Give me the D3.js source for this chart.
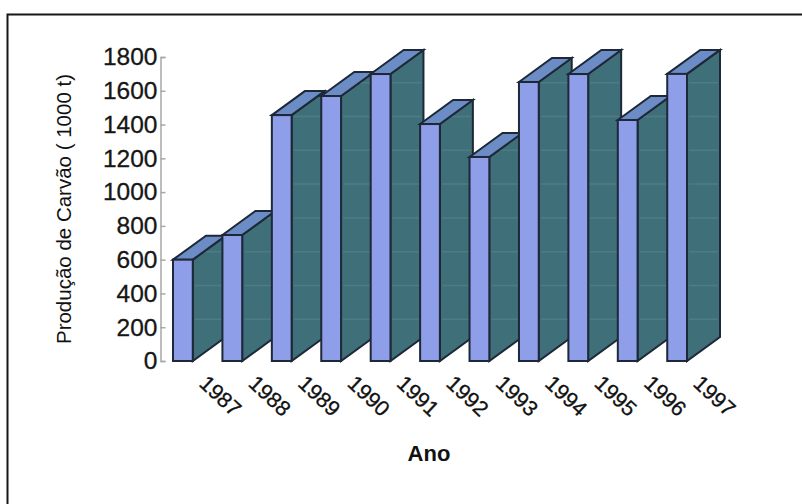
<!DOCTYPE html>
<html>
<head>
<meta charset="utf-8">
<script src="https://cdnjs.cloudflare.com/ajax/libs/d3/7.8.5/d3.min.js"></script>
<style>
  html, body { margin: 0; padding: 0; background: #fff; }
  svg { display: block; font-family: "Liberation Sans", Arial, sans-serif; }
</style>
</head>
<body>
<script>
// Data
const years = ["1987", "1988", "1989", "1990", "1991", "1992", "1993", "1994", "1995", "1996", "1997"];
const production = [600, 746, 1456, 1569, 1699, 1403, 1208, 1652, 1699, 1427, 1700];
const yTicks = [0, 200, 400, 600, 800, 1000, 1200, 1400, 1600, 1800];

// SVG variables
const width = 802, height = 504;
const depthX = 33, depthY = 24;
const outline = "#1d2838";

const svg = d3.select("body").append("svg")
    .attr("width", width)
    .attr("height", height);

// Scanned frame, only top and left survive
svg.append("path")
    .attr("d", "M7.5,504V14.5H802")
    .attr("fill", "none")
    .attr("stroke", "#161616")
    .attr("stroke-width", 2);

// Scales
const xScale = d3.scaleBand().domain(years).range([173, 687]).paddingInner(0.6);
const yScale = d3.scaleLinear().domain([0, 1800]).range([361, 57]);

// Axes
const yAxis = d3.axisLeft(yScale)
    .tickValues(yTicks)
    .tickSize(-5)
    .tickPadding(3)
    .tickFormat(d3.format("d"));

const yG = svg.append("g")
    .attr("transform", "translate(160.5,0)")
    .call(yAxis);
yG.select(".domain").attr("stroke", "#a8a8a8").attr("stroke-width", 1.5);
yG.selectAll(".tick line").attr("stroke", "#a8a8a8").attr("stroke-width", 1.5);
yG.selectAll("text")
    .attr("font-size", 24.5)
    .attr("fill", "#161616")
    .attr("stroke", "#161616")
    .attr("stroke-width", 0.3);

const xAxis = d3.axisBottom(xScale).tickSize(0);
const xG = svg.append("g")
    .attr("transform", "translate(0,361)")
    .call(xAxis);
xG.select(".domain").remove();
xG.selectAll("text")
    .attr("font-size", 21.5)
    .attr("fill", "#111")
    .attr("stroke", "#111")
    .attr("stroke-width", 0.3)
    .attr("text-anchor", "start")
    .attr("x", 0).attr("y", 0).attr("dy", 0)
    .attr("transform", "translate(15,24) rotate(43)");

// Bars, left to right so each front covers the previous side
const line = d3.line();
const data = years.map(function(y, i) { return {year: y, value: production[i], index: i}; });

const bars = svg.selectAll(".bar").data(data).enter().append("g").attr("class", "bar");

bars.each(function(d) {
    const g = d3.select(this);
    const x0 = xScale(d.year), x1 = x0 + xScale.bandwidth();
    const y0 = yScale(0), y1 = yScale(d.value);
    const sidePts = [[x1, y1], [x1 + depthX, y1 - depthY], [x1 + depthX, y0 - depthY], [x1, y0]];
    const topPts = [[x0, y1], [x0 + depthX, y1 - depthY], [x1 + depthX, y1 - depthY], [x1, y1]];

    // side face
    g.append("path")
        .attr("d", line(sidePts) + "Z")
        .attr("fill", "#3f6f79")
        .attr("stroke", outline)
        .attr("stroke-width", 2);

    // faint gridlines showing through the side face
    const clipId = "side" + d.index;
    g.append("clipPath").attr("id", clipId)
        .append("path").attr("d", line(sidePts) + "Z");
    g.append("g").attr("clip-path", "url(#" + clipId + ")")
        .selectAll("line").data(yTicks.slice(1)).enter().append("line")
        .attr("x1", x1 + 2).attr("x2", x1 + depthX - 2)
        .attr("y1", function(t) { return yScale(t) - 8; })
        .attr("y2", function(t) { return yScale(t) - 8; })
        .attr("stroke", "#7fa3a6")
        .attr("stroke-width", 1.5)
        .attr("stroke-opacity", 0.25);

    // top face
    g.append("path")
        .attr("d", line(topPts) + "Z")
        .attr("fill", "#6c8cc6")
        .attr("stroke", outline)
        .attr("stroke-width", 2);

    // front face
    g.append("rect")
        .attr("x", x0).attr("y", y1)
        .attr("width", x1 - x0).attr("height", y0 - y1)
        .attr("fill", "#8f9ee9")
        .attr("stroke", outline)
        .attr("stroke-width", 2);
});

// Axis titles
svg.append("text")
    .attr("transform", "translate(71,209) rotate(-90)")
    .attr("text-anchor", "middle")
    .attr("font-size", 20.5)
    .attr("fill", "#111")
    .text("Produção de Carvão ( 1000 t)");

svg.append("text")
    .attr("x", 429).attr("y", 461)
    .attr("text-anchor", "middle")
    .attr("font-size", 22)
    .attr("font-weight", "bold")
    .attr("fill", "#111")
    .text("Ano");
</script>
</body>
</html>
